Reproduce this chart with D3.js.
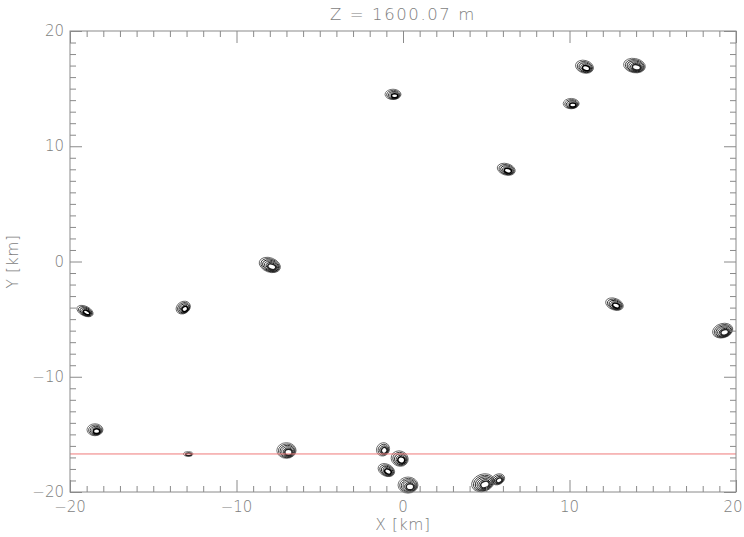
<!DOCTYPE html>
<html><head><meta charset="utf-8">
<script src="https://cdn.jsdelivr.net/npm/d3@7"></script>
<style>body{margin:0;background:#fff}svg{display:block}text{font-family:"DejaVu Sans","Liberation Sans",Arial,sans-serif;fill:#7e7e7e;font-weight:200}</style>
</head><body>
<script>
const title = "Z = 1600.07 m";
const xLabel = "X [km]", yLabel = "Y [km]";
const xTicks = [-20, -10, 0, 10, 20];
const yTicks = [-20, -10, 0, 10, 20];
const sectionY = -16.7;
// storm cells (km)
const cellX    = [-0.6, 10.9, 13.9, 10.1, 6.2, -8.0, -19.1, -13.2, 12.7, 19.2, -18.5, -12.9, -7.0, -1.2, -0.2, -1.0, 0.3, 4.8, 5.7];
const cellY    = [14.5, 16.9, 17.0, 13.7, 8.0, -0.3, -4.3, -4.0, -3.7, -6.0, -14.6, -16.7, -16.4, -16.3, -17.1, -18.1, -19.4, -19.2, -18.9];
const cellRx   = [0.48, 0.55, 0.66, 0.48, 0.55, 0.66, 0.52, 0.45, 0.55, 0.62, 0.48, 0.28, 0.58, 0.38, 0.52, 0.52, 0.6, 0.7, 0.42];
const cellRy   = [0.45, 0.55, 0.62, 0.45, 0.5, 0.62, 0.42, 0.52, 0.5, 0.62, 0.52, 0.2, 0.68, 0.6, 0.66, 0.52, 0.7, 0.75, 0.45];
const cellTilt = [0, 15, 10, 0, 15, 20, 25, -30, 20, -15, 0, 0, 0, 40, 20, 25, 0, -20, -25];
const cellRings= [5, 5, 6, 5, 5, 6, 5, 5, 5, 6, 5, 2, 6, 4, 5, 5, 6, 6, 4];

const W = 744, H = 537;
const m = {l: 70, r: 736, t: 31, b: 492};
const svg = d3.select("body").append("svg").attr("width", W).attr("height", H);
const x = d3.scaleLinear().domain([-20, 20]).range([m.l, m.r]);
const y = d3.scaleLinear().domain([-20, 20]).range([m.b, m.t]);
const axisCol = "#8a8a8a";

// cells
const g = svg.append("g");
cellX.forEach((cx, i) => {
  const n = cellRings[i];
  for (let k = 0; k < n; k++) {
    const s = 1 - k * (0.75 / n);
    const rx = Math.abs(x(cellRx[i] * s) - x(0));
    const ry = Math.abs(y(0) - y(cellRy[i] * s));
    const ox = x(cx) + k * 0.4, oy = y(cellY[i]) + k * 0.35;
    g.append("ellipse").attr("cx", ox).attr("cy", oy)
      .attr("rx", rx).attr("ry", ry)
      .attr("transform", `rotate(${cellTilt[i]},${ox},${oy})`)
      .attr("fill", "none").attr("stroke", k === 0 ? "#555" : (k % 2 ? "#222" : "#000"))
      .attr("stroke-width", k === n - 1 ? 1.5 : 0.8);
  }
});

// red section line
svg.append("line").attr("x1", x(-20)).attr("x2", x(20)).attr("y1", y(sectionY)).attr("y2", y(sectionY))
  .attr("stroke", "#ef7a7a").attr("stroke-width", 1);

// frame
svg.append("rect").attr("x", m.l).attr("y", m.t).attr("width", m.r - m.l).attr("height", m.b - m.t)
  .attr("fill", "none").attr("stroke", axisCol).attr("stroke-width", 1);

// ticks via d3 axes (inward)
const minor = d3.range(-20, 21, 1);
const tickG = svg.append("g").attr("stroke", axisCol);
const addAxis = (axisFn, scale, tr, sign) => {
  const a = tickG.append("g").attr("transform", tr)
    .call(axisFn(scale).tickValues(minor).tickSizeInner(0).tickSizeOuter(0).tickFormat(""));
  a.select(".domain").remove();
  a.selectAll(".tick line").attr("stroke", axisCol)
    .each(function(d) {
      const L = (d % 10 === 0 ? 12 : 6) * sign;
      const sel = d3.select(this);
      if (axisFn === d3.axisBottom || axisFn === d3.axisTop) sel.attr("y2", L); else sel.attr("x2", L);
    });
};
addAxis(d3.axisBottom, x, `translate(0,${m.b})`, -1);
addAxis(d3.axisTop, x, `translate(0,${m.t})`, 1);
addAxis(d3.axisLeft, y, `translate(${m.l},0)`, 1);
addAxis(d3.axisRight, y, `translate(${m.r},0)`, -1);

const fmt = v => v < 0 ? "\u2212" + Math.abs(v) : String(v);
svg.append("g").selectAll("text").data(xTicks).join("text")
  .attr("x", d => Math.min(x(d), W - 11)).attr("y", m.b + 20).attr("text-anchor", "middle")
  .attr("font-size", 15).text(fmt);
svg.append("g").selectAll("text").data(yTicks).join("text")
  .attr("x", m.l - 6).attr("y", d => y(d) + 5).attr("text-anchor", "end")
  .attr("font-size", 15).text(fmt);

svg.append("text").attr("x", (m.l + m.r) / 2).attr("y", 20).attr("text-anchor", "middle")
  .attr("font-size", 16.5).attr("letter-spacing", 1.6).text(title);
svg.append("text").attr("x", (m.l + m.r) / 2).attr("y", 530).attr("text-anchor", "middle")
  .attr("font-size", 15.5).attr("letter-spacing", 0.6).text(xLabel);
svg.append("text").attr("transform", `translate(18,${(m.t + m.b) / 2}) rotate(-90)`).attr("text-anchor", "middle")
  .attr("font-size", 15.5).attr("letter-spacing", 0.6).text(yLabel);
</script>
</body></html>
